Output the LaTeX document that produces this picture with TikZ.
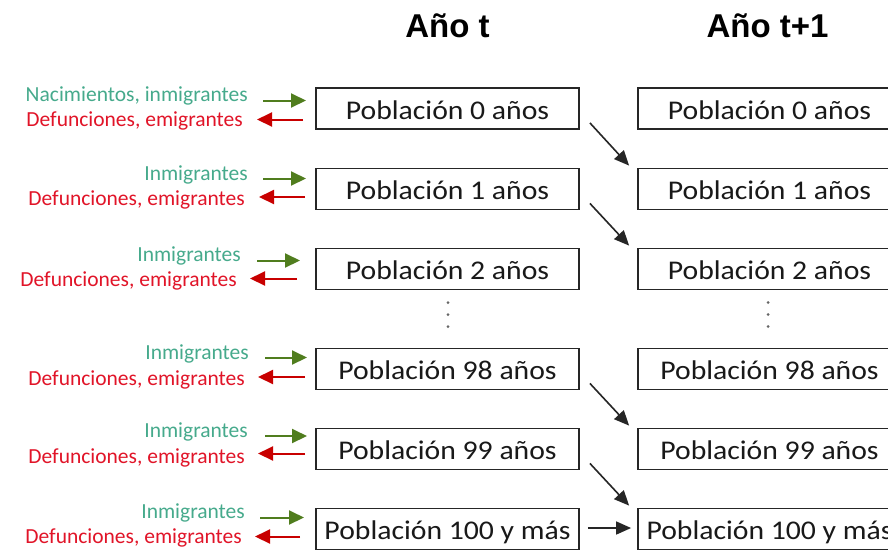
\documentclass[tikz,border=0pt]{standalone}
\usepackage{fontspec}
\setmainfont{Carlito}
\newfontfamily\headfont{Liberation Sans}
\newfontfamily\boxfont[FakeStretch=1.1]{Carlito}
\usetikzlibrary{arrows.meta,calc}
\definecolor{lblgreen}{RGB}{70,170,140}
\definecolor{lblred}{RGB}{225,20,40}
\definecolor{arrgreen}{RGB}{80,125,30}
\definecolor{arrred}{RGB}{200,0,0}
\tikzset{
  popbox/.style={draw=black!85, line width=1.8pt, minimum width=263pt, minimum height=41pt, inner sep=0pt,
    text height=22pt, text depth=0.4pt,
    font=\boxfont\fontsize{27}{30}\selectfont, text=black!90},
  head/.style={font=\headfont\bfseries\fontsize{33}{36}\selectfont, anchor=base, inner sep=0pt},
  inlbl/.style={font=\fontsize{21.5}{24}\selectfont, text=lblgreen, anchor=base east, inner sep=0pt},
  outlbl/.style={font=\fontsize{21.5}{24}\selectfont, text=lblred, anchor=base east, inner sep=0pt},
  inarr/.style={draw=arrgreen, line width=2pt, -{Triangle[length=15pt,width=14pt]}},
  outarr/.style={draw=arrred, line width=2pt, -{Triangle[length=15pt,width=14pt]}},
  agearr/.style={draw=black!85, line width=1.6pt, -{Triangle[length=15pt,width=13pt]}},
  vdot/.style={fill=black!60, draw=none, circle, minimum size=3pt, inner sep=0pt}
}
\begin{document}
\begin{tikzpicture}[x=1pt, y=-1pt]
\useasboundingbox (0,0) rectangle (888,550);
\clip (0,0) rectangle (888,550);
\fill[white] (0,0) rectangle (888,550);
% headings
\node[head] (h1) at (447.5,37) {Año t};
\node[head] (h2) at (767.5,37) {Año t+1};
% left column boxes
\node[popbox] (l0) at (447.5,108.5) {Población 0 años};
\node[popbox] (l1) at (447.5,189) {Población 1 años};
\node[popbox] (l2) at (447.5,269) {Población 2 años};
\node[popbox] (l98) at (447.5,369) {Población 98 años};
\node[popbox] (l99) at (447.5,449) {Población 99 años};
\node[popbox] (l100) at (447.5,529) {Población 100 y más};
% right column boxes
\node[popbox] (r0) at (769.5,108.5) {Población 0 años};
\node[popbox] (r1) at (769.5,189) {Población 1 años};
\node[popbox] (r2) at (769.5,269) {Población 2 años};
\node[popbox] (r98) at (769.5,369) {Población 98 años};
\node[popbox] (r99) at (769.5,449) {Población 99 años};
\node[popbox] (r100) at (769.5,529) {Población 100 y más};
% dots
\foreach \y/\n in {302.5/a,314.5/b,326.5/c}{
  \node[vdot] (ld\n) at (448,\y) {};
  \node[vdot] (rd\n) at (768,\y) {};
}
% labels
\node[inlbl] (g0) at (248,101.5) {Nacimientos, inmigrantes};
\node[outlbl] (d0) at (243,126.5) {Defunciones, emigrantes};
\node[inlbl] (g1) at (248,180) {Inmigrantes};
\node[outlbl] (d1) at (245,205) {Defunciones, emigrantes};
\node[inlbl] (g2) at (241,261.5) {Inmigrantes};
\node[outlbl] (d2) at (237,286.5) {Defunciones, emigrantes};
\node[inlbl] (g98) at (249,359.5) {Inmigrantes};
\node[outlbl] (d98) at (245,385) {Defunciones, emigrantes};
\node[inlbl] (g99) at (248,437.5) {Inmigrantes};
\node[outlbl] (d99) at (245,463) {Defunciones, emigrantes};
\node[inlbl] (g100) at (245,518.5) {Inmigrantes};
\node[outlbl] (d100) at (242,543.5) {Defunciones, emigrantes};
% in / out arrow end points
\coordinate (gi0) at (263,100.5); \coordinate (ge0) at (306,100.5);
\coordinate (ri0) at (303,119.5); \coordinate (re0) at (257,119.5);
\coordinate (gi1) at (263,178.5); \coordinate (ge1) at (306,178.5);
\coordinate (ri1) at (305,197); \coordinate (re1) at (259,197);
\coordinate (gi2) at (257,260.5); \coordinate (ge2) at (300,260.5);
\coordinate (ri2) at (297,278.5); \coordinate (re2) at (250,278.5);
\coordinate (gi98) at (265,357.5); \coordinate (ge98) at (307,357.5);
\coordinate (ri98) at (305,377); \coordinate (re98) at (258,377);
\coordinate (gi99) at (265,436); \coordinate (ge99) at (307,436);
\coordinate (ri99) at (305,453.5); \coordinate (re99) at (258,453.5);
\coordinate (gi100) at (260,517.5); \coordinate (ge100) at (304,517.5);
\coordinate (ri100) at (300,536.5); \coordinate (re100) at (255,536.5);
\foreach \k in {0,1,2,98,99,100}{
  \draw[inarr] (gi\k) -- (ge\k);
  \draw[outarr] (ri\k) -- (re\k);
}
% ageing arrows
\draw[agearr] ($(l0.south east)+(10,-7)$) -- ($(r1.north west)+(-8,-2)$);
\draw[agearr] ($(l1.south east)+(10,-7)$) -- ($(r2.north west)+(-8,-2)$);
\draw[agearr] ($(l98.south east)+(10,-7)$) -- ($(r99.north west)+(-8,-2)$);
\draw[agearr] ($(l99.south east)+(10,-7)$) -- ($(r100.north west)+(-8,-2)$);
\draw[agearr] ($(l100.east)+(8,-1)$) -- ($(r100.west)+(-6,-1)$);
\end{tikzpicture}
\end{document}
